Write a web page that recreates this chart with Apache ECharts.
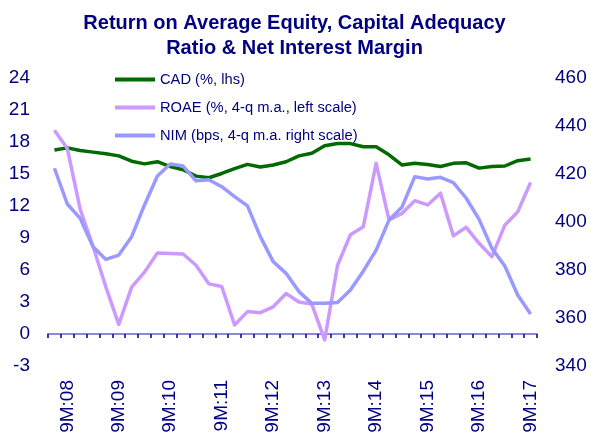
<!DOCTYPE html>
<html>
<head>
<meta charset="utf-8">
<script src="https://cdn.jsdelivr.net/npm/echarts@6/dist/echarts.min.js"></script>
<style>
  html, body { margin: 0; padding: 0; background: #fff; }
  #chart { width: 589px; height: 437px; }
</style>
</head>
<body>
<div id="chart"></div>
<script>
// quarterly periods, 6M:08 .. 9M:17
const categories = [
  '6M:08', '9M:08', '12M:08', '3M:09', '6M:09', '9M:09', '12M:09', '3M:10', '6M:10', '9M:10',
  '12M:10', '3M:11', '6M:11', '9M:11', '12M:11', '3M:12', '6M:12', '9M:12', '12M:12', '3M:13',
  '6M:13', '9M:13', '12M:13', '3M:14', '6M:14', '9M:14', '12M:14', '3M:15', '6M:15', '9M:15',
  '12M:15', '3M:16', '6M:16', '9M:16', '12M:16', '3M:17', '6M:17', '9M:17'
]

// CAD, % (left scale)
const cad = [
  17.25, 17.45, 17.2, 17.05, 16.9, 16.7, 16.2, 15.95, 16.15, 15.7,
  15.4, 14.8, 14.65, 15.05, 15.5, 15.9, 15.65, 15.85, 16.15, 16.7,
  16.95, 17.65, 17.85, 17.85, 17.55, 17.55, 16.8, 15.85, 16.0, 15.9,
  15.7, 16.0, 16.05, 15.55, 15.7, 15.75, 16.25, 16.4
]

// ROAE, %, 4-q m.a. (left scale)
const roae = [
  19.1, 17.4, 11.7, 8.2, 4.4, 0.9, 4.4, 5.8, 7.6, 7.55,
  7.5, 6.45, 4.7, 4.45, 0.85, 2.1, 2.0, 2.55, 3.8, 3.0,
  2.8, -0.55, 6.45, 9.3, 10.05, 16.0, 10.7, 11.3, 12.5, 12.1,
  13.2, 9.2, 10.0, 8.5, 7.25, 10.2, 11.45, 14.2
]

// NIM, bps, 4-q m.a. (right scale)
const nim = [
  422.4, 407.5, 401.5, 389.7, 384.4, 386.2, 393.9, 407.1, 419.2, 424.2,
  423.3, 417.2, 417.6, 414.7, 410.6, 406.7, 393.9, 383.5, 378.6, 371.0,
  366.1, 366.1, 366.5, 371.7, 379.5, 388.3, 400.8, 406.1, 418.9, 417.9,
  418.6, 416.4, 409.9, 401.1, 389.0, 381.7, 369.6, 361.7
]

const navy = '#000080'
const font = 'Arial, "Liberation Sans", sans-serif'

const chart = echarts.init(document.getElementById('chart'))

chart.setOption({
  animation: false,
  textStyle: { fontFamily: font },
  title: {
    text: 'Return on Average Equity, Capital Adequacy\nRatio & Net Interest Margin',
    left: 'center',
    top: 6,
    textStyle: { color: navy, fontSize: 20, fontWeight: 'bold', lineHeight: 25, fontFamily: font }
  },
  legend: {
    orient: 'vertical',
    left: 115,
    top: 72,
    padding: 0,
    icon: 'rect',
    itemWidth: 40,
    itemHeight: 4,
    itemGap: 13,
    textStyle: { color: navy, fontSize: 14.7, fontFamily: font },
    data: [
      { name: 'CAD (%, lhs)' },
      { name: 'ROAE (%, 4-q m.a., left scale)' },
      { name: 'NIM (bps, 4-q m.a. right scale)' }
    ]
  },
  grid: { left: 48, right: 52, top: 78, bottom: 71, containLabel: false, outerBoundsMode: 'none' },
  xAxis: {
    type: 'category',
    data: categories,
    boundaryGap: true,
    axisLine: { show: true, onZero: true, lineStyle: { color: '#8a8ad6', width: 2 } },
    axisTick: { show: true, interval: 0, length: 4, lineStyle: { color: navy, width: 1.5 } },
    axisLabel: {
      interval: (idx) => idx % 4 === 1,
      rotate: 90,
      margin: 14,
      color: navy,
      fontSize: 19,
      fontFamily: font
    },
    splitLine: { show: false }
  },
  yAxis: [
    {
      type: 'value',
      min: -3,
      max: 24,
      interval: 3,
      axisLine: { show: false },
      axisTick: { show: false },
      splitLine: { show: false },
      axisLabel: { color: navy, fontSize: 19, margin: 18, fontFamily: font }
    },
    {
      type: 'value',
      min: 340,
      max: 460,
      interval: 20,
      axisLine: { show: false },
      axisTick: { show: false },
      splitLine: { show: false },
      axisLabel: { color: navy, fontSize: 19, margin: 18, fontFamily: font }
    }
  ],
  series: [
    {
      name: 'CAD (%, lhs)',
      type: 'line',
      yAxisIndex: 0,
      data: cad,
      symbol: 'none',
      color: '#006a00',
      lineStyle: { width: 3.5, color: '#006a00', join: 'round' }
    },
    {
      name: 'ROAE (%, 4-q m.a., left scale)',
      type: 'line',
      yAxisIndex: 0,
      data: roae,
      symbol: 'none',
      color: '#cc99ff',
      lineStyle: { width: 3.5, color: '#cc99ff', join: 'round' }
    },
    {
      name: 'NIM (bps, 4-q m.a. right scale)',
      type: 'line',
      yAxisIndex: 1,
      data: nim,
      symbol: 'none',
      color: '#9999ff',
      lineStyle: { width: 3.5, color: '#9999ff', join: 'round' }
    }
  ]
})
</script>
</body>
</html>
